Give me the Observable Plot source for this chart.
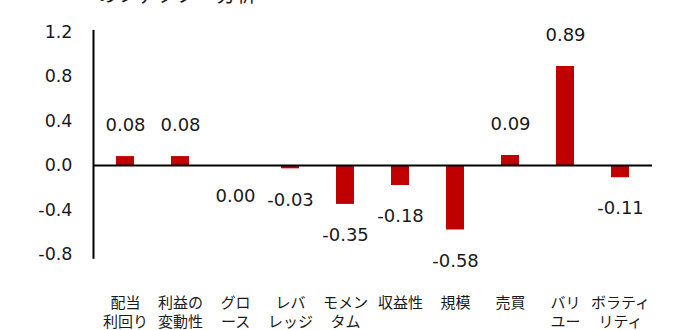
<!DOCTYPE html>
<html><head><meta charset="utf-8">
<script src="https://cdn.jsdelivr.net/npm/d3@7"></script>
<script src="https://cdn.jsdelivr.net/npm/@observablehq/plot@0.6"></script>
<style>
body{margin:0;background:#fff;overflow:hidden;}
#wrap{position:relative;width:693px;height:330px;font-family:"DejaVu Sans","Noto Sans CJK JP",sans-serif;}
#title{position:absolute;left:97px;top:-16px;font-size:20px;line-height:20px;color:#1a1a1a;white-space:nowrap;font-family:"Noto Sans CJK JP",sans-serif;}
</style></head>
<body><div id="wrap"><div id="title">のファクター分析</div></div>
<script>
const categories = ["配当利回り","利益の変動性","グロース","レバレッジ","モメンタム","収益性","規模","売買","バリュー","ボラティリティ"];
const tickLabels = ["配当\n利回り","利益の\n変動性","グロ\nース","レバ\nレッジ","モメン\nタム","収益性","規模","売買","バリ\nユー","ボラティ\nリティ"];
const values = [0.08, 0.08, 0.00, -0.03, -0.35, -0.18, -0.58, 0.09, 0.89, -0.11];
const yTicks = [-0.8, -0.4, 0, 0.4, 0.8, 1.2];

const data = categories.map((c, i) => ({cat: c, value: values[i]}));
const labelMap = new Map(categories.map((c, i) => [c, tickLabels[i]]));

const chart = Plot.plot({
  width: 693,
  height: 330,
  marginLeft: 93,
  marginRight: 41,
  marginTop: 30.4,
  marginBottom: 72.7,
  style: {fontFamily: '"DejaVu Sans","Noto Sans CJK JP",sans-serif', background: "#fff", color: "#1a1a1a"},
  x: {domain: categories, paddingInner: 0.68, paddingOuter: 0.34, align: 0.5},
  y: {domain: [-0.83, 1.21]},
  marks: [
    Plot.barY(data, {x: "cat", y: "value", fill: "#c00000"}),
    Plot.ruleY([0], {stroke: "#000", strokeWidth: 2}),
    Plot.frame({anchor: "left", stroke: "#000", strokeWidth: 2}),
    Plot.axisY({ticks: yTicks, tickSize: 0, tickPadding: 21, tickFormat: d => d.toFixed(1), fontSize: 17.5, label: null}),
    Plot.axisX({tickSize: 0, tickPadding: 36, tickFormat: d => labelMap.get(d), fontSize: 15, lineHeight: 1.3, label: null}),
    Plot.text(data.filter(d => d.value > 0), {x: "cat", y: "value", text: d => d.value.toFixed(2), dy: -31, fontSize: 18}),
    Plot.text(data.filter(d => d.value <= 0), {x: "cat", y: "value", text: d => d.value.toFixed(2), dy: 31, fontSize: 18})
  ]
});
document.getElementById("wrap").appendChild(chart);
</script></body></html>
